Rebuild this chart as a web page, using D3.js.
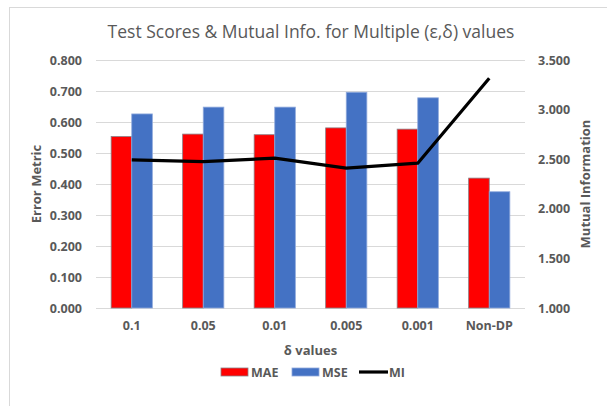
<!DOCTYPE html>
<html>
<head>
<meta charset="utf-8">
<script src="https://cdn.jsdelivr.net/npm/d3@7"></script>
<style>
  body { margin: 0; background: #fff; }
  text { font-family: "Open Sans", "Noto Sans", sans-serif; fill: #595959; }
</style>
</head>
<body>
<svg id="chart" width="607" height="406"></svg>
<script>
// chart data
var categories = ["0.1", "0.05", "0.01", "0.005", "0.001", "Non-DP"];
var maeValues = [0.553, 0.561, 0.559, 0.581, 0.577, 0.419];
var mseValues = [0.626, 0.648, 0.648, 0.696, 0.678, 0.375];
var miValues = [2.494, 2.476, 2.510, 2.410, 2.460, 3.316];
var leftTicks = [0, 0.1, 0.2, 0.3, 0.4, 0.5, 0.6, 0.7, 0.8];
var rightTicks = [1.0, 1.5, 2.0, 2.5, 3.0, 3.5];

var svg = d3.select("#chart");
var margin = {top: 60, right: 82, bottom: 98, left: 96};
var width = 607 - margin.left - margin.right,
    height = 406 - margin.top - margin.bottom;

// outer chart border (only top/left fall inside the window)
svg.append("rect")
    .attr("x", 9.5).attr("y", 7.5)
    .attr("width", 700).attr("height", 500)
    .attr("fill", "none")
    .attr("stroke", "#d9d9d9");

var x = d3.scaleBand().domain(categories).range([0, width]);
var yL = d3.scaleLinear().domain([0, 0.8]).range([height, 0]);
var yR = d3.scaleLinear().domain([1, 3.5]).range([height, 0]);

var g = svg.append("g")
    .attr("transform", "translate(" + margin.left + "," + margin.top + ")");

// gridlines
g.append("g")
    .selectAll("line")
    .data(leftTicks)
    .enter().append("line")
    .attr("x1", 0).attr("x2", width)
    .attr("y1", function(d) { return Math.round(yL(d)) + 0.5; })
    .attr("y2", function(d) { return Math.round(yL(d)) + 0.5; })
    .attr("stroke", "#d9d9d9")
    .attr("stroke-width", 1);

// left axis
var axisL = g.append("g")
    .call(d3.axisLeft(yL).tickValues(leftTicks).tickFormat(d3.format(".3f")).tickSize(0).tickPadding(14));
axisL.select(".domain").remove();
axisL.selectAll("text")
    .style("font-size", "12.5px").style("font-weight", "bold").attr("fill", "#595959");

// right axis
var axisR = g.append("g")
    .attr("transform", "translate(" + width + ",0)")
    .call(d3.axisRight(yR).tickValues(rightTicks).tickFormat(d3.format(".3f")).tickSize(0).tickPadding(13));
axisR.select(".domain").remove();
axisR.selectAll("text")
    .style("font-size", "12.5px").style("font-weight", "bold").attr("fill", "#595959");

// bottom axis
var axisB = g.append("g")
    .attr("transform", "translate(0," + height + ")")
    .call(d3.axisBottom(x).tickSize(0).tickPadding(13));
axisB.select(".domain").remove();
axisB.selectAll("text")
    .style("font-size", "12.5px").style("font-weight", "bold").attr("fill", "#595959");

// bars
var barW = 20.6;
var groups = g.selectAll(".grp")
    .data(categories)
    .enter().append("g")
    .attr("class", "grp")
    .attr("transform", function(d) { return "translate(" + (x(d) + x.bandwidth() / 2) + ",0)"; });

groups.append("rect")
    .attr("x", -barW)
    .attr("y", function(d, i) { return yL(maeValues[i]); })
    .attr("width", barW)
    .attr("height", function(d, i) { return height - yL(maeValues[i]); })
    .attr("fill", "#ff0000")
    .attr("stroke", "#8a7f86")
    .attr("stroke-width", 0.8);

groups.append("rect")
    .attr("x", 0)
    .attr("y", function(d, i) { return yL(mseValues[i]); })
    .attr("width", barW)
    .attr("height", function(d, i) { return height - yL(mseValues[i]); })
    .attr("fill", "#4472c4")
    .attr("stroke", "#8fa9dc")
    .attr("stroke-width", 0.8);

// MI line
var line = d3.line()
    .x(function(d, i) { return x(categories[i]) + x.bandwidth() / 2; })
    .y(function(d) { return yR(d); });

g.append("path")
    .datum(miValues)
    .attr("d", line)
    .attr("fill", "none")
    .attr("stroke", "#000")
    .attr("stroke-width", 3.2)
    .attr("stroke-linejoin", "round");

// title
svg.append("text")
    .attr("x", 311).attr("y", 38)
    .attr("text-anchor", "middle")
    .style("font-size", "17.5px")
    .text("Test Scores & Mutual Info. for Multiple (ε,δ) values");

// axis titles
svg.append("text")
    .attr("transform", "translate(41,184) rotate(-90)")
    .attr("text-anchor", "middle")
    .style("font-size", "13px").style("font-weight", "bold")
    .text("Error Metric");

svg.append("text")
    .attr("transform", "translate(590,184) rotate(-90)")
    .attr("text-anchor", "middle")
    .style("font-size", "13px").style("font-weight", "bold")
    .text("Mutual Information");

svg.append("text")
    .attr("x", margin.left + width / 2).attr("y", 355)
    .attr("text-anchor", "middle")
    .style("font-size", "13px").style("font-weight", "bold")
    .text("δ values");

// legend
var legend = svg.append("g").attr("transform", "translate(221,372)");
legend.append("rect").attr("x", 0).attr("y", -4).attr("width", 27).attr("height", 8)
    .attr("fill", "#ff0000").attr("stroke", "#8a7f86").attr("stroke-width", 0.8);
legend.append("text").attr("x", 30).attr("y", 4.5).style("font-size", "12.5px").style("font-weight", "bold").text("MAE");
legend.append("rect").attr("x", 71).attr("y", -4).attr("width", 27).attr("height", 8)
    .attr("fill", "#4472c4").attr("stroke", "#8fa9dc").attr("stroke-width", 0.8);
legend.append("text").attr("x", 101).attr("y", 4.5).style("font-size", "12.5px").style("font-weight", "bold").text("MSE");
legend.append("line").attr("x1", 138).attr("x2", 167).attr("y1", 0).attr("y2", 0)
    .attr("stroke", "#000").attr("stroke-width", 3.2);
legend.append("text").attr("x", 168).attr("y", 4.5).style("font-size", "12.5px").style("font-weight", "bold").text("MI");
</script>
</body>
</html>
